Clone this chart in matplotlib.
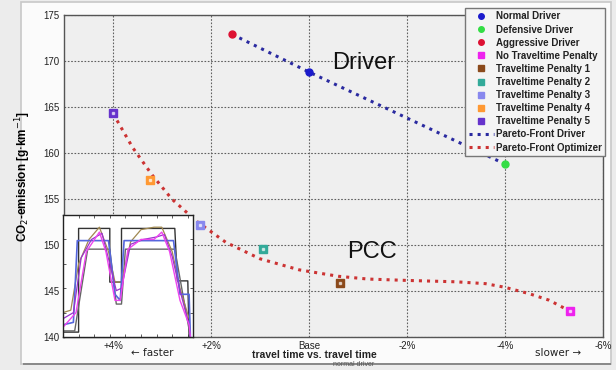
import matplotlib
matplotlib.use("Agg")
import matplotlib.pyplot as plt
from matplotlib.patches import Rectangle

plt.rcParams['font.family'] = ['Liberation Sans Narrow', 'Liberation Sans', 'DejaVu Sans']

# x: travel time change in % (negative = faster), y: CO2 emission [g/km]
driver_names = ['Normal Driver', 'Defensive Driver', 'Aggressive Driver']
driver_x = [0.0, 4.0, -1.57]
driver_y = [168.8, 158.8, 172.9]
driver_colors = ['#1a1acc', '#33dd44', '#dd1133']

opt_names = ['No Traveltime Penalty', 'Traveltime Penalty 1', 'Traveltime Penalty 2',
             'Traveltime Penalty 3', 'Traveltime Penalty 4', 'Traveltime Penalty 5']
opt_x = [5.33, 0.63, -0.94, -2.22, -3.24, -4.0]
opt_y = [142.8, 145.9, 149.6, 152.2, 157.1, 164.35]
opt_colors = ['#ee22ee', '#8b4a1c', '#33aa99', '#8888ee', '#ff9933', '#6633cc']

# pareto front of the drivers (aggressive -> normal -> defensive)
front_drv_x = [-1.57, 0.0, 4.0]
front_drv_y = [172.9, 168.8, 158.8]

# pareto front of the optimizer
front_opt_x = [-4.0, -3.6, -3.2, -2.8, -2.3, -1.7, -1.0, -0.2, 0.6, 1.2, 2.0, 3.0, 3.6, 4.0, 4.5, 4.9, 5.33]
front_opt_y = [164.3, 160.6, 157.6, 155.0, 152.6, 150.3, 148.5, 147.3, 146.6, 146.3, 146.15, 146.0,
               145.8, 145.4, 144.7, 144.0, 142.8]

xticks = [-4, -2, 0, 2, 4, 6]
xtick_labels = ['+4%', '+2%', 'Base', '-2%', '-4%', '-6%']
yticks = [140, 145, 150, 155, 160, 165, 170, 175]

# inset: speed profiles (normalised inset coordinates)
outer_x = [0, 0.12, 0.12, 0.36, 0.36, 0.45, 0.45, 0.86, 0.88, 0.96, 0.97]
outer_y = [0.04, 0.04, 0.89, 0.89, 0.45, 0.45, 0.89, 0.89, 0.46, 0.46, 0.0]
inner_x = [0, 0.09, 0.19, 0.36, 0.41, 0.45, 0.48, 0.86, 0.98]
inner_y = [0.05, 0.05, 0.72, 0.72, 0.27, 0.27, 0.72, 0.72, 0.0]
blue_x = [0, 0.08, 0.11, 0.35, 0.40, 0.44, 0.47, 0.85, 0.90, 0.97, 0.98]
blue_y = [0.10, 0.12, 0.79, 0.79, 0.35, 0.30, 0.79, 0.79, 0.35, 0.35, 0.0]
pink_x = [0, 0.1, 0.18, 0.28, 0.33, 0.40, 0.44, 0.50, 0.6, 0.7, 0.76, 0.82, 0.9, 0.97, 0.98]
pink_y = [0.08, 0.2, 0.7, 0.86, 0.7, 0.3, 0.3, 0.72, 0.8, 0.8, 0.86, 0.7, 0.3, 0.1, 0.0]
olive_x = [0, 0.06, 0.12, 0.2, 0.28, 0.35, 0.40, 0.45, 0.52, 0.6, 0.7, 0.76, 0.84, 0.9, 0.97]
olive_y = [0.2, 0.22, 0.6, 0.8, 0.9, 0.7, 0.45, 0.45, 0.78, 0.88, 0.9, 0.9, 0.7, 0.4, 0.15]
purple_x = [0, 0.08, 0.14, 0.22, 0.3, 0.36, 0.41, 0.45, 0.52, 0.62, 0.72, 0.78, 0.84, 0.9, 0.97]
purple_y = [0.15, 0.2, 0.65, 0.8, 0.85, 0.6, 0.38, 0.4, 0.76, 0.8, 0.82, 0.84, 0.66, 0.38, 0.1]

W, H = 616, 370
fig = plt.figure(figsize=(W / 100, H / 100), dpi=100, facecolor='#ececec')

# white panel with grey frame
fig.patches.append(Rectangle((21 / W, 6 / H), 590 / W, 362 / H, transform=fig.transFigure,
                             facecolor='#fbfbfb', edgecolor='#c8c8c8', lw=1.2, zorder=-10))
fig.patches.append(Rectangle((23 / W, 5 / H), 588 / W, 2.5 / H, transform=fig.transFigure,
                             facecolor='#8a8a8a', edgecolor='none', zorder=-9))

ax = fig.add_axes([64 / W, (H - 337) / H, 539 / W, 322 / H])
ax.set_facecolor('#efefef')

ax.plot(front_drv_x, front_drv_y, ':', color='#2a2aa0', lw=2.2, label='Pareto-Front Driver', zorder=2)
ax.plot(front_opt_x, front_opt_y, ':', color='#cc3333', lw=2.2, label='Pareto-Front Optimizer', zorder=2)

handles = []
for name, x, y, c in zip(driver_names, driver_x, driver_y, driver_colors):
    h, = ax.plot(x, y, 'o', color=c, ms=5, mec=c, label=name, zorder=3)
    handles.append(h)
for name, x, y, c in zip(opt_names, opt_x, opt_y, opt_colors):
    h, = ax.plot(x, y, 's', color=c, ms=5.5, mfc=c, mec=c, label=name, zorder=3)
    ax.plot(x, y, 's', color='white', ms=1.5, alpha=0.6, zorder=4)
    handles.append(h)
handles += ax.lines[:2]

ax.set_xlim(-5, 6)
ax.set_ylim(140, 175)
ax.set_xticks(xticks)
ax.set_xticklabels(xtick_labels)
ax.set_yticks(yticks)
ax.tick_params(length=0, labelsize=7, pad=3, colors='#222222')
ax.grid(True, linestyle=(0, (1.5, 1.5)), color='#606060', lw=0.8)
for s in ax.spines.values():
    s.set_color('#555555')
    s.set_linewidth(1)

ax.set_ylabel(r'CO$_2$-emission [g$\cdot$km$^{-1}$]', fontsize=8.5, fontweight='bold')
ax.yaxis.set_label_coords(-0.058, 0.5)

ax.text(1.12, 169.8, 'Driver', fontsize=17, family='Liberation Sans', ha='center', va='center', color='#111111')
ax.text(1.29, 149.2, 'PCC', fontsize=17, family='Liberation Sans', ha='center', va='center', color='#111111')

leg = ax.legend(handles=handles, loc='upper right', bbox_to_anchor=(605 / W, (H - 8) / H),
                bbox_transform=fig.transFigure, fontsize=7, frameon=True, fancybox=False,
                edgecolor='#777777', facecolor='#f4f4f4', framealpha=1, labelspacing=0.32,
                handlelength=2.6, handletextpad=0.2, borderpad=0.35, borderaxespad=0,
                markerscale=0.8)
for t in leg.get_texts():
    t.set_fontweight('bold')
    t.set_color('#222222')
leg.set_zorder(10)

# bottom texts
fig.text(252 / W, (H - 355) / H, 'travel time vs. travel time', fontsize=7.5, fontweight='bold',
         ha='left', va='center', color='#222222')
fig.text(333 / W, (H - 364) / H, 'normal driver', fontsize=5, ha='left', va='center', color='#555555')
fig.text(152 / W, (H - 353) / H, '\u2190 faster', fontsize=7.5, ha='center', va='center', color='#222222',
         family=['Liberation Sans Narrow', 'DejaVu Sans'])
fig.text(558 / W, (H - 353) / H, 'slower \u2192', fontsize=7.5, ha='center', va='center', color='#222222',
         family=['Liberation Sans Narrow', 'DejaVu Sans'])

# inset with speed profiles
ins = fig.add_axes([63 / W, (H - 337) / H, 130 / W, 122 / H])
ins.set_facecolor('white')
ins.plot(outer_x, outer_y, color='#333333', lw=1)
ins.plot(inner_x, inner_y, color='#666666', lw=1)
ins.plot(olive_x, olive_y, color='#a08850', lw=0.9)
ins.plot(blue_x, blue_y, color='#5566dd', lw=1.2)
ins.plot(purple_x, purple_y, color='#9933cc', lw=0.9)
ins.plot(pink_x, pink_y, color='#ee44ee', lw=1)
ins.set_xlim(0, 1)
ins.set_ylim(0, 1)
ins.set_xticks([0.12, 0.24, 0.36, 0.48, 0.6, 0.72, 0.84, 0.96])
ins.set_yticks([0.2, 0.4, 0.6, 0.8])
ins.tick_params(direction='in', length=2, labelbottom=False, labelleft=False, right=True, top=True,
                width=0.6, color='#444444')
for s in ins.spines.values():
    s.set_color('#222222')
    s.set_linewidth(1)

fig.savefig('out.png', dpi=100, facecolor=fig.get_facecolor())
